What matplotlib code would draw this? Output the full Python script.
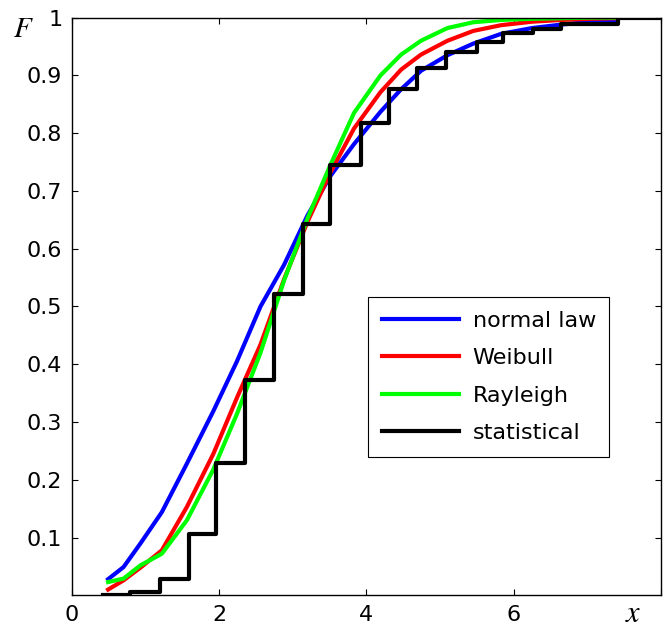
import matplotlib
matplotlib.use("Agg")
import matplotlib.pyplot as plt

# empirical CDF (step function): bin edges and values
step_x = [0.42, 0.79, 1.20, 1.59, 1.96, 2.35, 2.75, 3.14, 3.51, 3.92,
          4.31, 4.69, 5.08, 5.50, 5.85, 6.26, 6.64, 7.42, 8.02]
step_F = [0.0, 0.005, 0.028, 0.107, 0.229, 0.372, 0.521, 0.642, 0.745, 0.817,
          0.876, 0.913, 0.941, 0.958, 0.973, 0.980, 0.989, 1.0, 1.0]

# fitted laws
x_fit = [0.49, 0.70, 0.93, 1.22, 1.56, 1.92, 2.24, 2.56, 2.88, 3.20, 3.51,
         3.83, 4.19, 4.47, 4.74, 5.10, 5.45, 5.83, 6.25, 6.65, 7.05, 7.40]
F_normal = [0.028, 0.049, 0.090, 0.144, 0.228, 0.319, 0.405, 0.500, 0.572, 0.658, 0.726,
            0.781, 0.837, 0.876, 0.908, 0.935, 0.955, 0.972, 0.982, 0.988, 0.993, 0.996]
F_weibull = [0.010, 0.026, 0.048, 0.078, 0.153, 0.245, 0.342, 0.434, 0.547, 0.647, 0.732,
             0.808, 0.871, 0.910, 0.936, 0.960, 0.977, 0.987, 0.993, 0.996, 0.998, 0.999]
F_rayleigh = [0.023, 0.029, 0.052, 0.072, 0.130, 0.218, 0.314, 0.420, 0.545, 0.653, 0.745,
              0.835, 0.900, 0.936, 0.960, 0.982, 0.992, 0.996, 0.998, 0.999, 1.0, 1.0]

plt.rcParams['font.family'] = ['DejaVu Sans']
plt.rcParams['mathtext.fontset'] = 'stix'

fig = plt.figure(figsize=(6.7, 6.3), dpi=100)
ax = fig.add_axes([0.1075, 0.055, 0.879, 0.917])

ax.plot(x_fit, F_normal, color='#0000ff', lw=3, label='normal law')
ax.plot(x_fit, F_weibull, color='#ff0000', lw=3, label='Weibull')
ax.plot(x_fit, F_rayleigh, color='#00ff00', lw=3, label='Rayleigh')
ax.step(step_x, step_F, where='post', color='black', lw=3, label='statistical')

ax.set_xlim(0, 8)
ax.set_ylim(0, 1)
ax.set_xticks([0, 2, 4, 6, 8])
ax.set_xticklabels(['0', '2', '4', '6', ''])
yt = [0.1, 0.2, 0.3, 0.4, 0.5, 0.6, 0.7, 0.8, 0.9, 1.0]
ax.set_yticks(yt)
ax.set_yticklabels(['0.1', '0.2', '0.3', '0.4', '0.5', '0.6', '0.7', '0.8', '0.9', '1'])
ax.tick_params(direction='in', top=True, right=True, length=4, width=0.8,
               labelsize=16, pad=7)
for s in ax.spines.values():
    s.set_linewidth(1.0)

leg = ax.legend(loc='upper left', bbox_to_anchor=(0.503, 0.516), borderaxespad=0,
                fontsize=16, fancybox=False, framealpha=1, edgecolor='black',
                handlelength=3.5, labelspacing=0.79, borderpad=0.6, handletextpad=0.6)
leg.get_frame().set_linewidth(0.8)

fig.text(23 / 670, 1 - 37 / 630, r'$F$', fontsize=21, ha='center', va='baseline')
fig.text(633 / 670, 1 - 622 / 630, r'$x$', fontsize=22, ha='center', va='baseline')

plt.savefig('out.png')
